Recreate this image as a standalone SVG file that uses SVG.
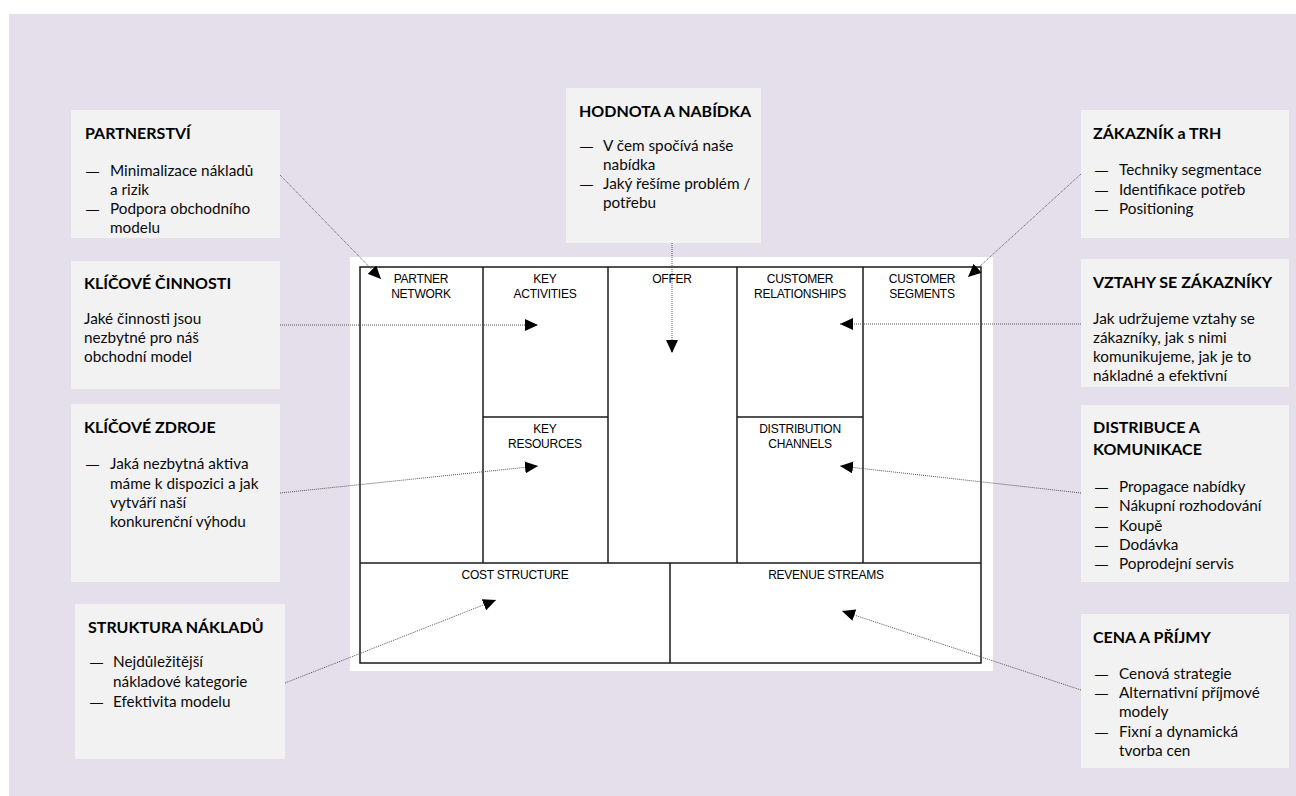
<svg xmlns="http://www.w3.org/2000/svg" width="1296" height="796" viewBox="0 0 1296 796">
<defs>
<style>
.box{fill:#F2F2F2}
.t{font-family:Lato,"Liberation Sans",sans-serif;font-size:15.3px;fill:#0a0a0a}
.d{font-family:"Liberation Sans",Arial,sans-serif;font-size:13px;fill:#0a0a0a}
.h{font-family:Lato,"Liberation Sans",sans-serif;font-size:16px;font-weight:bold;fill:#000}
.c{font-family:"Liberation Sans",Arial,sans-serif;font-size:12px;fill:#000;text-anchor:middle;letter-spacing:-0.25px}
.grid{fill:none;stroke:#1a1a1a;stroke-width:1.5}
.con{fill:none;stroke:#555;stroke-width:1;stroke-dasharray:1 1}
</style>
<marker id="ah" markerUnits="userSpaceOnUse" markerWidth="14" markerHeight="12" refX="13" refY="6" orient="auto">
<path d="M0,0 L13,6 L0,12 Z" fill="#000"/>
</marker>
</defs>
<rect x="9" y="14" width="1287" height="782" fill="#E5DFEB"/>

<g id="canvas">
<rect x="350" y="257" width="643" height="414" fill="#fff"/>
<rect class="grid" x="360" y="267" width="621" height="396"/>
<line class="grid" x1="483" y1="267" x2="483" y2="563"/>
<line class="grid" x1="608" y1="267" x2="608" y2="563"/>
<line class="grid" x1="737" y1="267" x2="737" y2="563"/>
<line class="grid" x1="863" y1="267" x2="863" y2="563"/>
<line class="grid" x1="483" y1="417" x2="608" y2="417"/>
<line class="grid" x1="737" y1="417" x2="863" y2="417"/>
<line class="grid" x1="360" y1="563" x2="981" y2="563"/>
<line class="grid" x1="670" y1="563" x2="670" y2="663"/>
<text class="c" x="421" y="283">PARTNER</text>
<text class="c" x="421" y="298">NETWORK</text>
<text class="c" x="545" y="283">KEY</text>
<text class="c" x="545" y="298">ACTIVITIES</text>
<text class="c" x="672" y="283">OFFER</text>
<text class="c" x="800" y="283">CUSTOMER</text>
<text class="c" x="800" y="298">RELATIONSHIPS</text>
<text class="c" x="922" y="283">CUSTOMER</text>
<text class="c" x="922" y="298">SEGMENTS</text>
<text class="c" x="545" y="433">KEY</text>
<text class="c" x="545" y="448">RESOURCES</text>
<text class="c" x="800" y="433">DISTRIBUTION</text>
<text class="c" x="800" y="448">CHANNELS</text>
<text class="c" x="515" y="579">COST STRUCTURE</text>
<text class="c" x="826" y="579">REVENUE STREAMS</text>
</g>

<g id="partnerstvi">
<rect class="box" x="71" y="110" width="209" height="128"/>
<text class="h" x="85" y="139">PARTNERSTVÍ</text>
<text class="d" x="86" y="176">—</text><text class="t" x="110" y="176">Minimalizace nákladů</text>
<text class="t" x="110" y="195">a rizik</text>
<text class="d" x="86" y="214">—</text><text class="t" x="110" y="214">Podpora obchodního</text>
<text class="t" x="110" y="233">modelu</text>
</g>

<g id="klicove-cinnosti">
<rect class="box" x="71" y="261" width="209" height="128"/>
<text class="h" x="84" y="289">KLÍČOVÉ ČINNOSTI</text>
<text class="t" x="84" y="324">Jaké činnosti jsou</text>
<text class="t" x="84" y="343">nezbytné pro náš</text>
<text class="t" x="84" y="362">obchodní model</text>
</g>

<g id="klicove-zdroje">
<rect class="box" x="71" y="404" width="209" height="178"/>
<text class="h" x="84" y="433">KLÍČOVÉ ZDROJE</text>
<text class="d" x="86" y="469">—</text><text class="t" x="110" y="469">Jaká nezbytná aktiva</text>
<text class="t" x="110" y="489">máme k dispozici a jak</text>
<text class="t" x="110" y="508">vytváří naší</text>
<text class="t" x="110" y="527">konkurenční výhodu</text>
</g>

<g id="struktura-nakladu">
<rect class="box" x="75" y="604" width="210" height="155"/>
<text class="h" x="88" y="633">STRUKTURA NÁKLADŮ</text>
<text class="d" x="90" y="667">—</text><text class="t" x="113" y="667">Nejdůležitější</text>
<text class="t" x="113" y="687">nákladové kategorie</text>
<text class="d" x="90" y="707">—</text><text class="t" x="113" y="707">Efektivita modelu</text>
</g>

<g id="hodnota">
<rect class="box" x="566" y="88" width="195" height="155"/>
<text class="h" x="579" y="117">HODNOTA A NABÍDKA</text>
<text class="d" x="580" y="151">—</text><text class="t" x="603" y="151">V čem spočívá naše</text>
<text class="t" x="603" y="170">nabídka</text>
<text class="d" x="580" y="189">—</text><text class="t" x="603" y="189">Jaký řešíme problém /</text>
<text class="t" x="603" y="208">potřebu</text>
</g>

<g id="zakaznik">
<rect class="box" x="1081" y="110" width="208" height="128"/>
<text class="h" x="1093" y="139">ZÁKAZNÍK a TRH</text>
<text class="d" x="1095" y="175">—</text><text class="t" x="1119" y="175">Techniky segmentace</text>
<text class="d" x="1095" y="195">—</text><text class="t" x="1119" y="195">Identifikace potřeb</text>
<text class="d" x="1095" y="214">—</text><text class="t" x="1119" y="214">Positioning</text>
</g>

<g id="vztahy">
<rect class="box" x="1081" y="259" width="208" height="128"/>
<text class="h" x="1093" y="288">VZTAHY SE ZÁKAZNÍKY</text>
<text class="t" x="1093" y="324">Jak udržujeme vztahy se</text>
<text class="t" x="1093" y="343">zákazníky, jak s nimi</text>
<text class="t" x="1093" y="362">komunikujeme, jak je to</text>
<text class="t" x="1093" y="381">nákladné a efektivní</text>
</g>

<g id="distribuce">
<rect class="box" x="1081" y="405" width="208" height="177"/>
<text class="h" x="1093" y="433">DISTRIBUCE A</text>
<text class="h" x="1093" y="455">KOMUNIKACE</text>
<text class="d" x="1095" y="492">—</text><text class="t" x="1119" y="492">Propagace nabídky</text>
<text class="d" x="1095" y="511">—</text><text class="t" x="1119" y="511">Nákupní rozhodování</text>
<text class="d" x="1095" y="531">—</text><text class="t" x="1119" y="531">Koupě</text>
<text class="d" x="1095" y="550">—</text><text class="t" x="1119" y="550">Dodávka</text>
<text class="d" x="1095" y="569">—</text><text class="t" x="1119" y="569">Poprodejní servis</text>
</g>

<g id="cena">
<rect class="box" x="1081" y="614" width="208" height="154"/>
<text class="h" x="1093" y="643">CENA A PŘÍJMY</text>
<text class="d" x="1095" y="679">—</text><text class="t" x="1119" y="679">Cenová strategie</text>
<text class="d" x="1095" y="698">—</text><text class="t" x="1119" y="698">Alternativní příjmové</text>
<text class="t" x="1119" y="717">modely</text>
<text class="d" x="1095" y="737">—</text><text class="t" x="1119" y="737">Fixní a dynamická</text>
<text class="t" x="1119" y="756">tvorba cen</text>
</g>

<g id="connectors">
<line class="con" x1="280" y1="175" x2="381" y2="279" marker-end="url(#ah)"/>
<line class="con" x1="280" y1="325" x2="538" y2="325" marker-end="url(#ah)"/>
<line class="con" x1="280" y1="493" x2="538" y2="466" marker-end="url(#ah)"/>
<line class="con" x1="285" y1="683" x2="496" y2="600" marker-end="url(#ah)"/>
<line class="con" x1="672" y1="243" x2="672" y2="353" marker-end="url(#ah)"/>
<line class="con" x1="1081" y1="174" x2="968" y2="277" marker-end="url(#ah)"/>
<line class="con" x1="1081" y1="324" x2="840" y2="324" marker-end="url(#ah)"/>
<line class="con" x1="1081" y1="493" x2="840" y2="466" marker-end="url(#ah)"/>
<line class="con" x1="1081" y1="690" x2="842" y2="611" marker-end="url(#ah)"/>
</g>
</svg>
